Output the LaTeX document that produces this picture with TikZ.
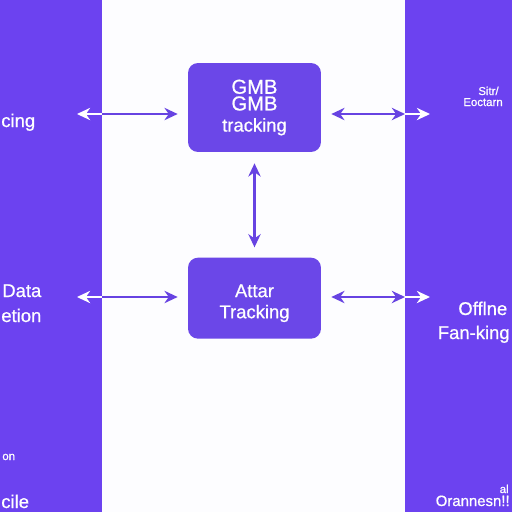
\documentclass[tikz,border=0pt]{standalone}
\usepackage{fontspec}
\setmainfont{Liberation Sans}
\newfontfamily\medfont{Liberation Sans}[FakeBold=0.7]
\usetikzlibrary{arrows.meta, positioning}

\definecolor{panelpurple}{HTML}{6C42F0}
\definecolor{boxpurple}{HTML}{6B47E8}
\definecolor{linepurple}{HTML}{6743E2}
\definecolor{paleback}{HTML}{FDFDFF}

\begin{document}
\begin{tikzpicture}[x=0.02cm,y=-0.02cm,node distance=2.1cm,
  track node/.style={rectangle,rounded corners=0.2cm,fill=boxpurple,text=white,
    minimum width=2.66cm,align=center,font=\medfont\fontsize{10.5}{12}\selectfont},
  side text/.style={text=white,inner sep=0pt,font=\medfont\fontsize{10.5}{12}\selectfont},
  tiny text/.style={text=white,inner sep=0pt,font=\medfont\fontsize{6.5}{7}\selectfont},
  link/.style={draw=linepurple,line width=1.4pt,>={Stealth[length=7.5pt,width=7pt]}},
  out link/.style={draw=white,line width=0.9pt,>={Stealth[length=7.5pt,width=7pt]}}]
  \useasboundingbox (0,0) rectangle (512,512);
  \fill[paleback] (0,0) rectangle (512,512);
  \fill[panelpurple] (0,0) rectangle (102,512);
  \fill[panelpurple] (405,0) rectangle (512,512);

  \node[track node, minimum height=1.78cm] (gmb) at (254.5,107.5)
    {\fontsize{11.5}{12}\selectfont GMB\\[-2.5pt]\fontsize{11.5}{12}\selectfont GMB\\tracking};
  \node[track node, minimum height=1.62cm, below=2.1cm of gmb] (attar)
    {\rule{0pt}{13pt}Attar\\Tracking};

  % panel ends of the connectors
  \coordinate (l1) at (102,114);
  \coordinate (l1 end) at (77,114);
  \coordinate (r1) at (405,114);
  \coordinate (r1 end) at (430,114);
  \coordinate (l2) at (102,297);
  \coordinate (l2 end) at (77,297);
  \coordinate (r2) at (405,297);
  \coordinate (r2 end) at (430,297);

  \draw[link,->,shorten >=0.2cm] (l1) -- (l1 -| gmb.west);
  \draw[out link,->] (l1) -- (l1 end);
  \draw[link,<->,shorten <=0.2cm] (gmb.east |- r1) -- (r1);
  \draw[out link,->] (r1) -- (r1 end);
  \draw[link,->,shorten >=0.2cm] (l2) -- (l2 -| attar.west);
  \draw[out link,->] (l2) -- (l2 end);
  \draw[link,<->,shorten <=0.2cm] (attar.east |- r2) -- (r2);
  \draw[out link,->] (r2) -- (r2 end);
  \draw[link,<->,shorten <=0.22cm,shorten >=0.2cm] (gmb) -- (attar);

  % texts on the side panels
  \node[side text, anchor=base west] (cing) at (1,127) {cing};
  \node[side text, anchor=base west] (data) at (2,297) {Data};
  \node[side text, anchor=base west] (etion) at (1,322) {etion};
  \node[tiny text, anchor=base west] (on) at (2,460) {on};
  \node[side text, anchor=base west] (cile) at (1,508) {cile};
  \node[tiny text, anchor=base west] (sitr) at (478,95) {Sitr/};
  \node[tiny text, anchor=base west] (eoctarn) at (463,106) {Eoctarn};
  \node[side text, anchor=base west] (offlne) at (458,315) {Offlne};
  \node[side text, anchor=base east] (fanking) at (510,339) {Fan-king};
  \node[tiny text, anchor=base east] (al) at (509,493) {al};
  \node[tiny text, anchor=base east, font=\medfont\fontsize{8.5}{9}\selectfont] (orannes) at (510,506) {Orannesn!!};
\end{tikzpicture}
\end{document}
